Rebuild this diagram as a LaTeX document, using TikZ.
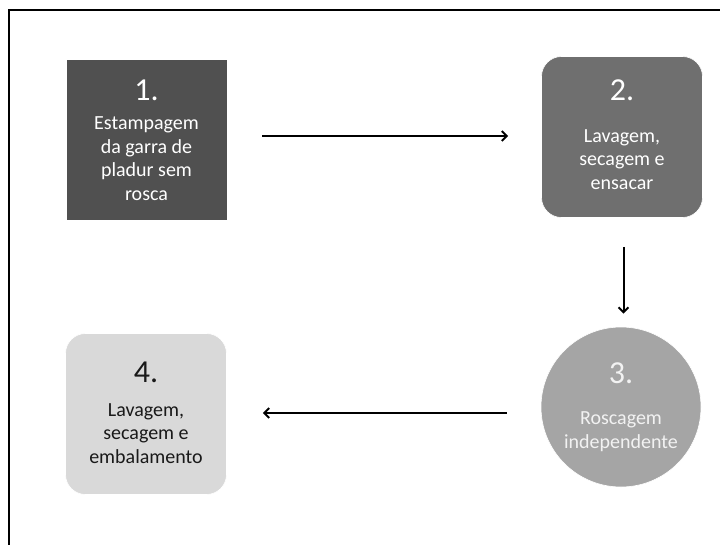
\documentclass[tikz,border=0pt]{standalone}
\usepackage{fontspec}
\setmainfont{Carlito}
\usetikzlibrary{arrows.meta,calc}
\definecolor{stepA}{HTML}{505050}
\definecolor{stepB}{HTML}{6F6F6F}
\definecolor{stepC}{HTML}{A5A5A5}
\definecolor{stepD}{HTML}{D9D9D9}
\begin{document}
\begin{tikzpicture}[x=1pt,y=-1pt,
  box/.style={draw=white, line width=0.6pt, minimum width=161pt, minimum height=161pt, inner sep=0pt},
  numtxt/.style={anchor=base, font=\fontsize{32}{32}\selectfont, inner sep=0pt},
  % base anchor of a multi-line node sits on its last line
  bodytxt/.style={anchor=base, align=center, font=\fontsize{20}{23.5}\selectfont, inner sep=0pt},
  flow/.style={line width=2pt, -{Straight Barb[length=5pt,width=10pt,line width=2pt]}}
]
\useasboundingbox (0,0) rectangle (720,544);
\begin{scope}
\clip (0,0) rectangle (720,544);
% outer frame, running past the right and bottom edges
\draw[line width=1.5pt] (9,10) rectangle (740,560);
\end{scope}

% step 1: square box
\node[box, fill=stepA] (b1) at (146.5,140) {};
\node[numtxt, text=white] (n1) at (146.5,100.5) {1.};
\node[bodytxt, text=white] (t1) at (146.5,200) {Estampagem\\da garra de\\pladur sem\\rosca};

% step 2: rounded box
\node[box, fill=stepB, rounded corners=20pt] (b2) at (622,137) {};
\node[numtxt, text=white] (n2) at (622,100) {2.};
\node[bodytxt, text=white] (t2) at (622,189) {Lavagem,\\secagem e\\ensacar};

% step 3: circle
\node[draw=white, line width=0.6pt, circle, fill=stepC, minimum size=160pt, inner sep=0pt] (b3) at (621,407) {};
\node[numtxt, text=white!95!black] (n3) at (621,383) {3.};
\node[bodytxt, text=white!95!black] (t3) at (621,448) {Roscagem\\independente};

% step 4: rounded box, dark text
\node[box, fill=stepD, rounded corners=20pt] (b4) at (146,414) {};
\node[numtxt, text=black!90] (n4) at (146,382) {4.};
\node[bodytxt, text=black!90] (t4) at (146,463) {Lavagem,\\secagem e\\embalamento};

% connectors
\draw[flow] ($(b1.east)+(35,-4)$) -- ($(b2.west)+(-33,-1)$);
\draw[flow] ($(b2.south)+(1.5,29)$) -- ($(b3.north)+(2.5,-13)$);
\draw[flow] ($(b3.west)+(-34,6)$) -- ($(b4.east)+(36,-1)$);
\end{tikzpicture}
\end{document}
